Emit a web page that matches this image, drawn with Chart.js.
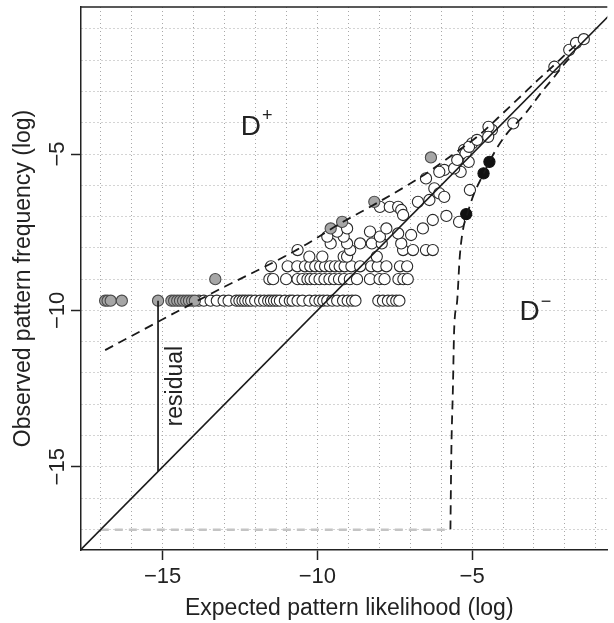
<!DOCTYPE html>
<html>
<head>
<meta charset="utf-8">
<script src="https://cdn.jsdelivr.net/npm/chart.js"></script>
<style>
  html, body { margin: 0; padding: 0; background: #fff; }
  #wrap { width: 614px; height: 623px; }
</style>
</head>
<body>
<div id="wrap"><canvas id="chart"></canvas></div>
<script>
// Tick labels (log scale values)
const xTicks = [-15, -10, -5];
const yTicks = [-15, -10, -5];

// Open circles: patterns inside the envelope, [expected, observed]
const openPoints = [
  // one occurrence
  [-13.83, -9.69], [-13.67, -9.69], [-13.45, -9.69], [-13.25, -9.69], [-13.03, -9.69], [-12.87, -9.69],
  [-12.62, -9.69], [-12.52, -9.69], [-12.42, -9.69], [-12.33, -9.69], [-12.23, -9.69], [-12.14, -9.69],
  [-12.01, -9.69], [-11.85, -9.69], [-11.72, -9.69], [-11.59, -9.69], [-11.50, -9.69], [-11.40, -9.69],
  [-11.31, -9.69], [-11.21, -9.69], [-11.05, -9.69], [-10.89, -9.69], [-10.80, -9.69], [-10.64, -9.69],
  [-10.48, -9.69], [-10.26, -9.69], [-10.07, -9.69], [-9.93, -9.69], [-9.81, -9.69], [-9.68, -9.69],
  [-9.52, -9.69], [-9.36, -9.69], [-9.17, -9.69], [-9.02, -9.69], [-8.88, -9.69], [-8.77, -9.69],
  [-8.03, -9.69], [-7.88, -9.69], [-7.72, -9.69], [-7.58, -9.69], [-7.45, -9.69], [-7.35, -9.69],
  // two occurrences
  [-11.55, -9.0], [-11.43, -9.0], [-11.01, -9.0], [-10.64, -9.0], [-10.48, -9.0], [-10.32, -9.0],
  [-10.22, -9.0], [-10.09, -9.0], [-9.93, -9.0], [-9.77, -9.0], [-9.61, -9.0], [-9.46, -9.0],
  [-9.30, -9.0], [-9.14, -9.0], [-8.95, -9.0], [-8.72, -9.0], [-8.30, -9.0], [-7.99, -9.0],
  [-7.83, -9.0], [-7.38, -9.0], [-7.22, -9.0], [-7.08, -9.0],
  // three occurrences
  [-11.50, -8.59], [-10.96, -8.59], [-10.65, -8.59], [-10.40, -8.59], [-10.23, -8.59], [-10.07, -8.59],
  [-9.91, -8.59], [-9.75, -8.59], [-9.59, -8.59], [-9.43, -8.59], [-9.28, -8.59], [-9.12, -8.59],
  [-8.90, -8.59], [-8.62, -8.59], [-8.26, -8.59], [-8.05, -8.59], [-7.77, -8.59], [-7.33, -8.59],
  [-7.10, -8.59],
  // more frequent patterns
  [-10.26, -8.28], [-9.84, -8.28], [-9.15, -8.28], [-9.04, -8.28], [-8.08, -8.28],
  [-10.64, -8.07], [-8.94, -8.07], [-7.23, -8.07], [-6.91, -8.07], [-6.49, -8.07], [-6.27, -8.07],
  [-9.57, -7.86], [-9.04, -7.86], [-8.62, -7.86], [-8.24, -7.86], [-7.92, -7.86], [-7.29, -7.86],
  [-9.68, -7.64], [-9.15, -7.64], [-7.98, -7.64], [-6.97, -7.59],
  [-9.36, -7.48], [-8.30, -7.48], [-7.39, -7.54],
  [-9.04, -7.38], [-7.77, -7.38], [-6.59, -7.38], [-6.27, -7.11],
  [-7.98, -6.69], [-7.66, -6.69], [-7.39, -6.69], [-7.29, -6.79], [-7.23, -6.95],
  [-5.83, -6.98], [-5.42, -7.17],
  [-6.75, -6.53], [-6.38, -6.47],
  [-6.22, -6.10], [-6.06, -6.26], [-5.90, -6.37], [-5.07, -6.15],
  [-5.90, -5.51], [-6.06, -5.57], [-5.37, -5.57], [-5.58, -5.46], [-6.49, -5.78],
  [-5.00, -4.66], [-5.26, -4.87], [-5.21, -4.98], [-5.48, -5.19], [-5.11, -5.25],
  [-5.10, -4.77], [-4.84, -4.55],
  [-3.67, -4.02], [-4.36, -4.23], [-4.47, -4.13], [-4.48, -4.45],
  [-2.34, -2.21], [-1.86, -1.67], [-1.64, -1.45], [-1.39, -1.33]
];

// Grey circles: over-represented patterns (D+)
const grayPoints = [
  [-16.86, -9.69], [-16.78, -9.69], [-16.68, -9.69], [-16.32, -9.69], [-15.15, -9.69],
  [-14.72, -9.69], [-14.63, -9.69], [-14.53, -9.69], [-14.44, -9.69], [-14.34, -9.69],
  [-14.24, -9.69], [-14.15, -9.69], [-14.05, -9.69], [-13.96, -9.69],
  [-13.30, -9.0], [-9.57, -7.38], [-9.20, -7.17], [-8.16, -6.53], [-6.33, -5.11]
];

// Black circles: under-represented patterns (D-)
const blackPoints = [[-4.44, -5.25], [-4.63, -5.62], [-5.19, -6.92]];

// Reference lines
const diagonal = [[-17.7, -17.7], [-0.2, -0.2]];
const residualLine = [[-15.15, -9.69], [-15.15, -15.15]];
const floorLine = [[-17.0, -17.01], [-5.7, -17.01]];
const upperBound = [
  [-16.86, -11.27], [-13.41, -9.45], [-10.64, -8.05], [-9.26, -7.22], [-8.08, -6.57],
  [-6.81, -5.83], [-6.17, -5.41], [-5.64, -5.03], [-4.80, -4.42], [-4.16, -3.84],
  [-3.40, -3.13], [-2.88, -2.64], [-2.34, -2.15], [-1.92, -1.76], [-1.6, -1.48]
];
const lowerBound = [
  [-5.70, -17.0], [-5.67, -14.5], [-5.62, -12.5], [-5.58, -10.63], [-5.48, -9.67],
  [-5.40, -8.3], [-5.30, -7.45], [-5.15, -6.9], [-4.95, -6.3], [-4.68, -5.73],
  [-4.25, -4.9], [-3.90, -4.38], [-3.29, -3.72], [-2.72, -2.98], [-2.34, -2.53],
  [-2.02, -2.12], [-1.75, -1.83]
];

const FONT = '"Liberation Sans", Arial, Helvetica, sans-serif';
const toXY = arr => arr.map(([x, y]) => ({ x, y }));
const minus = v => (v < 0 ? "\u2212" + Math.abs(v) : String(v));
const majorTick = ctx => (ctx.tick && ctx.tick.value % 5 === 0 ? "#222" : "rgba(0,0,0,0)");

const lineSet = (data, color, width, dash) => ({
  data: toXY(data),
  showLine: true,
  borderColor: color,
  borderWidth: width,
  borderDash: dash,
  pointRadius: 0,
  fill: false,
  cubicInterpolationMode: "monotone"
});

const pointSet = (data, fill, edge) => ({
  data: toXY(data),
  showLine: false,
  pointRadius: 5.6,
  pointBorderWidth: 1.1,
  pointBackgroundColor: fill,
  pointBorderColor: edge
});

// Axis text, box top and the D+/D-/residual labels
const decorations = {
  id: "decorations",
  afterDraw(chart) {
    const { ctx, chartArea: a, scales: { x, y } } = chart;
    ctx.save();
    ctx.strokeStyle = "#222";
    ctx.lineWidth = 1.5;
    ctx.beginPath();
    ctx.moveTo(a.left, a.top);
    ctx.lineTo(a.right, a.top);
    ctx.stroke();

    ctx.fillStyle = "#222";
    ctx.textBaseline = "alphabetic";
    ctx.textAlign = "center";
    ctx.font = "22px " + FONT;
    xTicks.forEach(v => ctx.fillText(minus(v), x.getPixelForValue(v), 583));
    yTicks.forEach(v => {
      ctx.save();
      ctx.translate(64, y.getPixelForValue(v));
      ctx.rotate(-Math.PI / 2);
      ctx.fillText(minus(v), 0, 0);
      ctx.restore();
    });

    ctx.font = "23px " + FONT;
    ctx.fillText("Expected pattern likelihood (log)", (a.left + x.getPixelForValue(-0.3)) / 2, 615);
    ctx.save();
    ctx.translate(30, (a.top + a.bottom) / 2);
    ctx.rotate(-Math.PI / 2);
    ctx.fillText("Observed pattern frequency (log)", 0, 0);
    ctx.restore();

    // residual label
    ctx.save();
    ctx.translate(x.getPixelForValue(-14.59), y.getPixelForValue(-12.42));
    ctx.rotate(-Math.PI / 2);
    ctx.textBaseline = "middle";
    ctx.fillText("residual", 0, 0);
    ctx.restore();

    const sup = (base, s, vx, vy) => {
      const px = x.getPixelForValue(vx), py = y.getPixelForValue(vy);
      ctx.font = "28px " + FONT;
      ctx.textAlign = "center";
      ctx.fillText(base, px, py);
      const w = ctx.measureText(base).width;
      ctx.font = "18px " + FONT;
      ctx.textAlign = "left";
      ctx.fillText(s, px + w / 2 + 1, py - 13.5);
    };
    sup("D", "+", -12.15, -4.39);
    sup("D", "\u2212", -3.14, -10.31);
    ctx.restore();
  }
};

new Chart(document.getElementById("chart"), {
  type: "scatter",
  data: {
    datasets: [
      lineSet(diagonal, "#1a1a1a", 1.7, []),
      lineSet(residualLine, "#1a1a1a", 1.7, []),
      lineSet(upperBound, "#1a1a1a", 1.8, [9, 6]),
      lineSet(lowerBound, "#1a1a1a", 1.8, [9, 6]),
      lineSet(floorLine, "#c4c4c4", 2.5, [8, 6]),
      pointSet(blackPoints, "#111", "#111"),
      pointSet(grayPoints, "#a6a6a6", "#4a4a4a"),
      pointSet(openPoints, "#fff", "#2a2a2a")
    ]
  },
  options: {
    responsive: true,
    maintainAspectRatio: false,
    animation: false,
    events: [],
    layout: { padding: { left: 71, right: 0, top: 7, bottom: 63 } },
    plugins: { legend: { display: false }, tooltip: { enabled: false } },
    scales: {
      x: {
        type: "linear",
        min: -17.64,
        max: -0.63,
        ticks: { stepSize: 1, display: false, includeBounds: false },
        grid: { color: "#a8a8a8", lineWidth: 1, tickLength: 10, tickWidth: 1.5, tickColor: majorTick, tickBorderDash: [] },
        border: { display: true, color: "#222", width: 1.5, dash: [1, 3] }
      },
      y: {
        type: "linear",
        min: -17.66,
        max: -0.3,
        ticks: { stepSize: 1, display: false, includeBounds: false },
        grid: { color: "#a8a8a8", lineWidth: 1, tickLength: 10, tickWidth: 1.5, tickColor: majorTick, tickBorderDash: [] },
        border: { display: true, color: "#222", width: 1.5, dash: [1, 3] }
      }
    }
  },
  plugins: [decorations]
});
</script>
</body>
</html>
